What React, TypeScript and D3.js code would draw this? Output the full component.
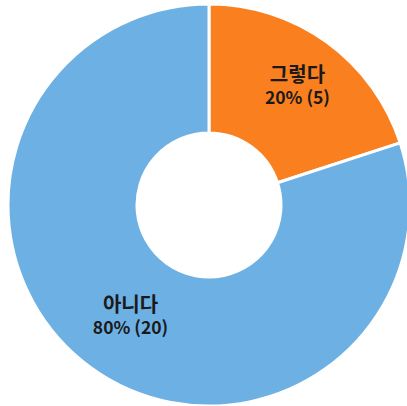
import { useEffect, useRef } from 'react'
import * as d3 from 'd3'

const categories = ['그렇다', '아니다']
const values = [5, 20]
const colors = ['#FA7F1E', '#6DB0E4']

const W = 407
const H = 406

export default function App() {
  const svgRef = useRef<SVGSVGElement>(null)

  useEffect(() => {
    if (!svgRef.current) return
    const svg = d3.select(svgRef.current)
    svg.selectAll('*').remove()

    const cx = 209
    const cy = 205
    const outerR = 201
    const innerR = 72

    const total = d3.sum(values)
    const data = categories.map((c, i) => ({ name: c, value: values[i], color: colors[i] }))

    const pie = d3.pie<{ name: string; value: number; color: string }>()
      .sort(null)
      .value(d => d.value)

    const arc = d3.arc<d3.PieArcDatum<{ name: string; value: number; color: string }>>()
      .innerRadius(innerR)
      .outerRadius(outerR)

    const labelArc = d3.arc<d3.PieArcDatum<{ name: string; value: number; color: string }>>()
      .innerRadius(142)
      .outerRadius(142)

    const g = svg.append('g').attr('transform', `translate(${cx},${cy})`)
    const arcs = pie(data)

    g.selectAll('path')
      .data(arcs)
      .enter()
      .append('path')
      .attr('d', arc)
      .style('fill', d => d.data.color)
      .style('stroke', '#ffffff')
      .style('stroke-width', '3px')

    const labels = g.selectAll('.label')
      .data(arcs)
      .enter()
      .append('g')
      .attr('class', 'label')
      .attr('transform', d => {
        const [x, y] = labelArc.centroid(d)
        return `translate(${x + 5},${y - 4})`
      })

    labels.append('text')
      .attr('y', -4)
      .style('text-anchor', 'middle')
      .style('font-family', '"Noto Sans CJK KR", "Noto Sans", sans-serif')
      .style('font-size', '20px')
      .style('font-weight', '700')
      .style('fill', '#1a1a1a')
      .text(d => d.data.name)

    labels.append('text')
      .attr('y', 18)
      .style('text-anchor', 'middle')
      .style('font-family', '"Noto Sans CJK KR", "Noto Sans", sans-serif')
      .style('font-size', '17.5px')
      .style('font-weight', '700')
      .style('fill', '#1a1a1a')
      .text(d => `${Math.round((d.data.value / total) * 100)}% (${d.data.value})`)
  }, [])

  return (
    <svg
      ref={svgRef}
      width={W}
      height={H}
      style={{ position: 'absolute', left: 0, top: 0, background: '#ffffff' }}
    />
  )
}
